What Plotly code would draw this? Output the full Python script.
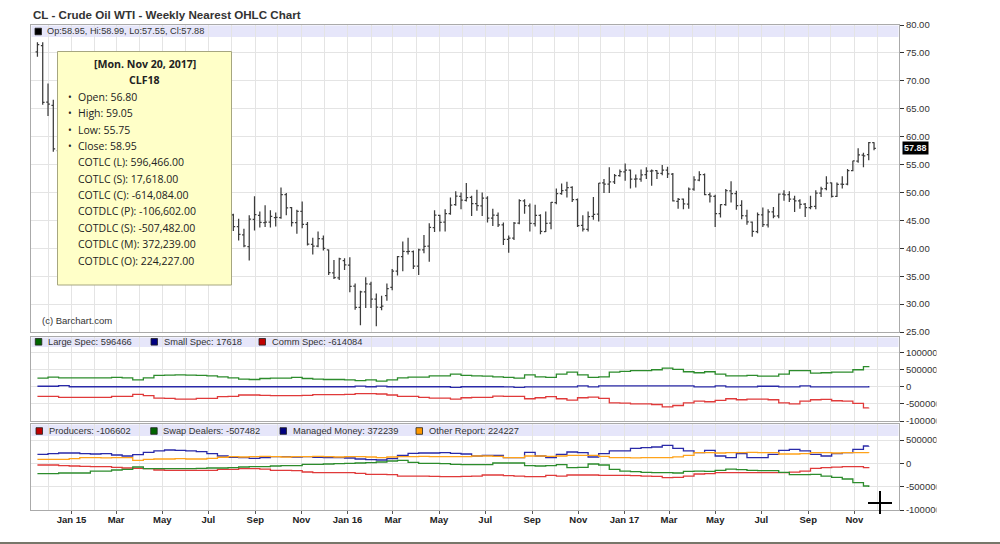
import plotly.graph_objects as go
import pandas as pd

# ---------------- price data (weekly OHLC, CL nearest) ----------------
week_start = "2014-11-17"
open_ = [
    75.2, 76.3, 66.2, 65.6, 57.5, 56.3, 54.6,
    52.7, 48.1, 48.7, 45.6, 48.0, 51.6, 52.8, 50.5, 49.6, 49.6, 44.8, 45.7, 48.9,
    49.1, 51.6, 55.7, 57.1, 59.2, 59.4, 59.7, 59.7, 60.3, 59.1, 60.0, 59.6, 58.5,
    56.0, 52.7, 50.9, 48.1, 46.0, 43.9, 42.4, 40.3, 45.2, 45.9, 44.6, 44.7, 45.5,
    45.5, 49.6, 47.3, 44.6, 46.6, 44.3, 40.7, 40.4, 41.7, 39.7, 35.6, 34.7, 37.8,
    37.0, 33.2, 29.4, 32.2, 33.6, 30.9, 29.4, 31.5, 33.0, 35.9, 38.5, 39.4, 39.4,
    36.8, 39.7, 40.4, 43.7, 45.9, 44.7, 46.2, 47.8, 49.3, 48.6, 49.1, 48.0, 47.6,
    49.0, 45.4, 45.9, 44.2, 41.6, 41.8, 44.5, 48.5, 47.6, 44.4, 45.9, 43.0, 44.5,
    48.2, 49.8, 50.4, 50.9, 48.7, 44.1, 43.4, 45.7, 46.1, 51.7, 51.5, 51.9, 53.0,
    53.7, 54.0, 52.4, 52.4, 53.2, 53.8, 53.9, 53.4, 54.0, 53.3, 48.4, 48.8, 47.9,
    50.6, 52.2, 53.2, 49.6, 49.3, 46.2, 47.8, 50.3, 49.8, 47.7, 45.8, 44.7, 43.0,
    46.0, 44.2, 46.5, 45.8, 49.7, 49.6, 48.8, 48.5, 47.9, 47.3, 47.5, 49.9, 50.7,
    51.7, 49.3, 51.5, 51.5, 53.9, 55.6, 56.7, 56.80, 58.95,
]
high = [
    76.9, 76.9, 69.5, 66.6, 58.0, 57.8, 55.1,
    52.7, 49.9, 48.9, 48.3, 54.2, 53.0, 53.6, 51.3, 51.3, 50.4, 47.3, 52.5, 51.2,
    54.2, 57.4, 58.0, 59.9, 62.6, 61.1, 61.0, 60.7, 61.6, 61.4, 61.2, 61.5, 59.7,
    56.1, 53.7, 51.1, 49.0, 46.2, 45.3, 43.5, 45.9, 49.3, 46.6, 47.7, 46.8, 46.4,
    50.9, 49.9, 47.4, 46.9, 48.4, 44.7, 41.9, 43.0, 42.3, 39.8, 37.9, 38.3, 38.2,
    38.4, 33.7, 32.4, 34.8, 34.0, 31.9, 31.5, 33.7, 36.3, 38.6, 41.2, 41.9, 39.6,
    39.9, 42.4, 44.5, 46.8, 46.0, 47.0, 49.1, 50.2, 50.0, 51.7, 49.4, 50.5, 50.0,
    49.3, 47.1, 46.4, 44.6, 42.3, 44.7, 48.8, 48.8, 48.0, 47.8, 46.1, 46.6, 48.3,
    50.7, 51.6, 51.9, 51.1, 48.9, 45.9, 46.6, 49.2, 51.7, 52.4, 54.5, 53.3, 54.1,
    55.2, 54.1, 53.2, 54.1, 54.5, 54.1, 54.0, 54.9, 54.6, 53.5, 49.0, 48.9, 50.9,
    52.9, 53.8, 53.4, 50.0, 49.6, 47.9, 50.6, 52.0, 50.3, 48.6, 46.9, 44.8, 46.4,
    47.3, 47.0, 47.4, 49.8, 50.4, 50.2, 49.4, 48.8, 48.1, 49.4, 50.4, 51.0, 52.9,
    51.8, 51.8, 52.9, 54.2, 55.7, 57.9, 57.1, 59.05, 58.99,
]
low = [
    74.3, 65.7, 63.7, 57.3, 53.6, 54.5, 52.0,
    47.5, 44.2, 45.2, 43.6, 47.4, 48.3, 48.6, 47.3, 48.6, 44.4, 42.0, 45.3, 46.7,
    48.9, 51.3, 54.4, 55.7, 58.2, 58.1, 57.0, 56.5, 57.4, 57.8, 58.6, 58.8, 56.2,
    51.3, 50.5, 47.7, 46.7, 43.1, 41.4, 40.2, 37.8, 43.2, 43.7, 43.8, 43.7, 43.9,
    45.3, 45.9, 43.9, 42.6, 43.6, 40.5, 38.9, 40.2, 39.6, 35.2, 34.5, 34.3, 36.1,
    32.1, 29.0, 26.2, 29.3, 29.3, 26.05, 28.9, 30.6, 32.5, 35.1, 35.9, 38.9, 36.3,
    35.2, 39.1, 37.6, 42.9, 43.0, 43.0, 46.0, 47.6, 47.0, 48.4, 45.8, 46.7, 45.8,
    44.6, 44.0, 43.8, 40.6, 39.2, 41.5, 44.3, 46.2, 43.0, 43.9, 42.5, 42.9, 43.4,
    47.9, 49.6, 49.1, 48.3, 43.8, 43.0, 43.0, 45.1, 44.8, 49.9, 49.9, 51.5, 52.8,
    52.1, 50.7, 50.9, 51.9, 52.4, 51.2, 52.4, 53.1, 52.6, 48.4, 47.1, 47.0, 47.1,
    50.3, 52.0, 49.5, 48.2, 43.8, 45.5, 47.6, 48.2, 46.9, 45.2, 44.2, 42.05, 42.7,
    43.8, 43.7, 45.4, 45.4, 48.5, 48.3, 46.5, 47.1, 45.6, 47.0, 47.0, 49.2, 50.4,
    49.1, 49.2, 50.7, 51.3, 53.8, 55.3, 54.5, 55.75, 57.55,
]
close = [
    76.5, 66.15, 65.84, 57.81, 56.52, 54.73, 52.69,
    48.36, 48.69, 45.59, 48.24, 51.69, 52.78, 50.81, 49.76, 49.61, 44.84, 45.72, 48.87, 49.14,
    51.64, 55.74, 57.15, 59.15, 59.39, 59.69, 59.72, 60.30, 59.13, 59.96, 59.61, 59.63, 56.93,
    52.74, 50.89, 48.14, 47.12, 43.87, 42.50, 40.45, 45.22, 46.05, 44.63, 44.68, 45.70, 45.54,
    49.63, 47.26, 44.60, 46.59, 44.29, 40.74, 40.39, 41.71, 39.97, 35.62, 34.73, 38.10, 37.04,
    33.16, 29.42, 32.19, 33.62, 30.89, 29.44, 29.64, 32.78, 35.92, 38.50, 39.44, 39.46, 36.79,
    39.72, 40.36, 43.73, 45.92, 44.66, 46.21, 47.75, 49.33, 48.62, 49.07, 47.98, 47.64, 48.99,
    45.41, 45.95, 44.19, 41.60, 41.80, 44.49, 48.52, 47.64, 44.44, 45.88, 43.03, 44.48, 48.24,
    49.81, 50.35, 50.85, 48.70, 44.07, 43.41, 45.69, 46.06, 51.68, 51.50, 51.90, 53.02, 53.72,
    53.99, 52.37, 52.42, 53.17, 53.83, 53.86, 53.40, 53.99, 53.33, 48.49, 48.78, 47.97, 50.60,
    52.24, 53.18, 49.62, 49.33, 46.22, 47.84, 50.33, 49.80, 47.66, 45.83, 44.74, 43.01, 46.04,
    44.23, 46.54, 45.77, 49.71, 49.58, 48.82, 48.51, 47.87, 47.29, 47.48, 49.89, 50.66, 51.67,
    49.29, 51.45, 51.47, 53.90, 55.64, 56.74, 56.55, 58.95, 57.88,
]

# ---------------- COT data (read every 2 weeks, last = latest report) ----------------
cot_start = "2014-11-17"
cot_last = "2017-11-20"
large_spec = [
    245000, 275000, 255000, 255000, 255000, 255000, 255000, 270000, 255000, 196000,
    255000, 323000, 333000, 343000, 333000, 323000, 314000, 284000, 255000, 216000,
    206000, 235000, 245000, 245000, 265000, 235000, 216000, 206000, 206000, 196000,
    176000, 196000, 157000, 196000, 255000, 275000, 275000, 314000, 314000, 363000,
    323000, 314000, 304000, 284000, 265000, 245000, 343000, 284000, 265000, 363000,
    422000, 343000, 265000, 284000, 422000, 441000, 461000, 461000, 490000, 539000,
    500000, 431000, 402000, 431000, 363000, 314000, 314000, 324000, 304000, 304000,
    363000, 461000, 461000, 392000, 402000, 422000, 422000, 490000, 578000, 596466,
]
small_spec = [
    10000, 10000, 29000, -5000, -5000, -5000, -5000, -5000, -5000, -5000,
    -5000, -5000, -5000, -5000, -5000, -5000, -5000, -5000, -5000, -5000,
    -5000, -5000, -5000, -5000, -5000, -5000, -5000, -5000, -5000, -5000,
    15000, -5000, 15000, -5000, -5000, -5000, -5000, -5000, -5000, -25000,
    -5000, -5000, -5000, -5000, -10000, -25000, -10000, -10000, -10000, -10000,
    -10000, 20000, -10000, 20000, 20000, 20000, 20000, 20000, 20000, 20000,
    20000, 20000, -10000, -10000, 20000, -10000, -10000, -10000, 10000, 10000,
    -10000, -10000, 20000, -10000, -10000, -10000, -10000, -10000, -10000, 17618,
]
comm_spec = [
    -284000, -284000, -314000, -314000, -314000, -314000, -314000, -284000, -284000, -225000,
    -265000, -333000, -343000, -363000, -363000, -343000, -343000, -294000, -284000, -245000,
    -245000, -255000, -265000, -265000, -265000, -255000, -235000, -235000, -235000, -225000,
    -206000, -206000, -216000, -245000, -284000, -284000, -314000, -333000, -333000, -363000,
    -324000, -314000, -314000, -275000, -284000, -284000, -353000, -324000, -294000, -353000,
    -392000, -324000, -304000, -343000, -471000, -480000, -500000, -500000, -520000, -588000,
    -549000, -471000, -422000, -441000, -402000, -353000, -382000, -363000, -363000, -382000,
    -471000, -500000, -422000, -382000, -373000, -412000, -422000, -490000, -618000, -614084,
]
producers = [
    -36000, -36000, -50000, -57000, -65000, -72000, -72000, -86000, -100000, -107000,
    -114000, -143000, -150000, -150000, -150000, -150000, -150000, -129000, -129000, -114000,
    -114000, -122000, -150000, -150000, -157000, -186000, -200000, -200000, -200000, -200000,
    -215000, -236000, -236000, -243000, -272000, -272000, -272000, -279000, -286000, -286000,
    -279000, -272000, -250000, -250000, -265000, -272000, -286000, -286000, -257000, -272000,
    -250000, -250000, -250000, -257000, -257000, -257000, -265000, -272000, -279000, -307000,
    -300000, -272000, -229000, -222000, -200000, -200000, -200000, -200000, -200000, -200000,
    -200000, -190000, -165000, -110000, -93000, -80000, -72000, -72000, -93000, -106602,
]
swap_dealers = [
    -222000, -222000, -207000, -207000, -207000, -165000, -165000, -143000, -129000, -79000,
    -114000, -114000, -114000, -114000, -114000, -107000, -100000, -100000, -93000, -79000,
    -72000, -72000, -57000, -50000, -50000, -21000, -21000, -14000, -7000, 0,
    7000, 14000, 29000, 50000, 64000, 21000, 0, 0, -7000, -21000,
    -29000, -29000, -29000, 7000, 7000, 7000, -50000, -57000, -50000, -29000,
    -93000, -86000, -14000, -36000, -129000, -165000, -179000, -193000, -200000, -200000,
    -207000, -172000, -165000, -172000, -150000, -122000, -136000, -150000, -157000, -157000,
    -193000, -243000, -243000, -236000, -272000, -300000, -336000, -415000, -486000, -507482,
]
managed_money = [
    193000, 207000, 221000, 221000, 207000, 200000, 207000, 179000, 157000, 186000,
    236000, 265000, 286000, 279000, 265000, 250000, 207000, 157000, 129000, 122000,
    107000, 122000, 143000, 143000, 136000, 143000, 129000, 122000, 122000, 114000,
    93000, 79000, 72000, 100000, 172000, 215000, 221000, 221000, 229000, 215000,
    200000, 157000, 172000, 172000, 122000, 122000, 236000, 157000, 122000, 193000,
    243000, 229000, 136000, 207000, 265000, 265000, 322000, 336000, 350000, 386000,
    322000, 265000, 229000, 279000, 157000, 122000, 207000, 122000, 122000, 193000,
    279000, 300000, 265000, 193000, 157000, 207000, 229000, 300000, 372000, 372239,
]
other_report = [
    86000, 86000, 86000, 100000, 122000, 122000, 115000, 122000, 122000, 64000,
    86000, 93000, 93000, 100000, 93000, 93000, 107000, 130000, 143000, 136000,
    143000, 150000, 143000, 136000, 143000, 143000, 150000, 143000, 136000, 143000,
    143000, 136000, 122000, 136000, 143000, 143000, 150000, 143000, 143000, 143000,
    143000, 157000, 157000, 150000, 122000, 122000, 157000, 157000, 150000, 157000,
    172000, 172000, 172000, 150000, 122000, 122000, 115000, 122000, 122000, 122000,
    140000, 172000, 229000, 229000, 222000, 229000, 229000, 236000, 229000, 229000,
    200000, 200000, 207000, 229000, 229000, 222000, 229000, 229000, 229000, 224227,
]

# ---------------- axis ticks / labels ----------------
tick_dates = ["2015-01-01", "2015-03-01", "2015-05-01", "2015-07-01", "2015-09-01", "2015-11-01",
              "2016-01-01", "2016-03-01", "2016-05-01", "2016-07-01", "2016-09-01", "2016-11-01",
              "2017-01-01", "2017-03-01", "2017-05-01", "2017-07-01", "2017-09-01", "2017-11-01"]
tick_text = ["Jan 15", "Mar", "May", "Jul", "Sep", "Nov",
             "Jan 16", "Mar", "May", "Jul", "Sep", "Nov",
             "Jan 17", "Mar", "May", "Jul", "Sep", "Nov"]
price_ticks = [25, 30, 35, 40, 45, 50, 55, 60, 65, 70, 75, 80]
price_tick_text = ["25.00", "30.00", "35.00", "40.00", "45.00", "50.00",
                   "55.00", "60.00", "65.00", "70.00", "75.00", "80.00"]
cot_ticks = [-1000000, -500000, 0, 500000, 1000000]
cot_tick_text = ["-1000000", "-500000", "0", "500000", "1000000"]

header_text = "Op:58.95, Hi:58.99, Lo:57.55, Cl:57.88"
last_price = 57.88
legend2 = [("Large Spec: 596466", "#006400"), ("Small Spec: 17618", "#000080"),
           ("Comm Spec: -614084", "#c00000")]
legend3 = [("Producers: -106602", "#c00000"), ("Swap Dealers: -507482", "#006400"),
           ("Managed Money: 372239", "#000080"), ("Other Report: 224227", "#ff9900")]
tooltip_title = "[Mon. Nov 20, 2017]"
tooltip_symbol = "CLF18"
tooltip_bullets = ["Open: 56.80", "High: 59.05", "Low: 55.75", "Close: 58.95"]
tooltip_cot = ["COTLC (L): 596,466.00", "COTLC (S): 17,618.00", "COTLC (C): -614,084.00",
               "COTDLC (P): -106,602.00", "COTDLC (S): -507,482.00",
               "COTDLC (M): 372,239.00", "COTDLC (O): 224,227.00"]

weeks = pd.date_range(week_start, periods=len(close), freq="7D")
cot_dates = list(pd.date_range(cot_start, periods=len(large_spec) - 1, freq="14D")) + [pd.Timestamp(cot_last)]

# ---------------- layout geometry (pixels) ----------------
W, H = 1000, 544
PL, PR, PT, PB = 31, 899, 25, 510


def fx(px):
    return (px - PL) / (PR - PL)


def fy(py):
    return (PB - py) / (PB - PT)


SANS = "Liberation Sans, Arial, sans-serif"
TIP = "Open Sans, Noto Sans, sans-serif"
GRID = "#e4e4e4"

fig = go.Figure()
fig.add_trace(go.Ohlc(
    x=weeks, open=open_, high=high, low=low, close=close,
    xaxis="x", yaxis="y", tickwidth=0.35,
    increasing=dict(line=dict(color="#3c3c3c", width=1.25)),
    decreasing=dict(line=dict(color="#3c3c3c", width=1.25)),
    hoverinfo="skip", showlegend=False))

for vals, col in [(large_spec, "#2c8c2c"), (small_spec, "#2a2aa8"), (comm_spec, "#e03a3a")]:
    fig.add_trace(go.Scatter(x=cot_dates, y=vals, mode="lines", line=dict(color=col, width=1.3, shape="hv"),
                             xaxis="x2", yaxis="y2", hoverinfo="skip", showlegend=False))
for vals, col in [(producers, "#e03a3a"), (swap_dealers, "#2c8c2c"),
                  (managed_money, "#2a2aa8"), (other_report, "#ffa31a")]:
    fig.add_trace(go.Scatter(x=cot_dates, y=vals, mode="lines", line=dict(color=col, width=1.3, shape="hv"),
                             xaxis="x3", yaxis="y3", hoverinfo="skip", showlegend=False))

xr = ["2014-11-08 12:00", "2017-12-30"]


def xax(anchor, labels):
    d = dict(type="date", range=xr, anchor=anchor, domain=[0, 1],
             tickmode="array", tickvals=tick_dates, ticktext=tick_text,
             showgrid=True, gridcolor=GRID, gridwidth=1,
             minor=dict(tick0="2014-12-01", dtick="M1", showgrid=True, gridcolor=GRID, gridwidth=1),
             showline=True, linecolor="#aaaaaa", linewidth=1, mirror=True, zeroline=False,
             fixedrange=True, rangeslider=dict(visible=False))
    if labels:
        d.update(showticklabels=True, ticks="outside", ticklen=3, tickcolor="#555555",
                 ticklabelstandoff=-2,
                 tickfont=dict(family=SANS, size=9.5, color="#222222", weight="bold"))
    else:
        d.update(showticklabels=False, ticks="")
    return d


def yax(anchor, dom, rng, tv, tt):
    return dict(anchor=anchor, domain=dom, range=rng, side="right",
                tickmode="array", tickvals=tv, ticktext=tt,
                ticks="outside", ticklen=4, tickcolor="#333333",
                tickfont=dict(family=SANS, size=9.5, color="#333333"),
                showgrid=True, gridcolor=GRID, gridwidth=1, zeroline=False,
                showline=True, linecolor="#aaaaaa", linewidth=1, mirror=True, fixedrange=True)


fig.update_layout(
    width=W, height=H, margin=dict(l=PL, r=W - PR, t=PT, b=H - PB),
    paper_bgcolor="white", plot_bgcolor="white", showlegend=False,
    font=dict(family=SANS, color="#333333"),
    xaxis=xax("y", False), xaxis2=xax("y2", False), xaxis3=xax("y3", True),
    yaxis=yax("x", [fy(332), 1], [25, 80], price_ticks, price_tick_text),
    yaxis2=yax("x2", [fy(421), fy(337)], [-1000000, 1441000], cot_ticks, cot_tick_text),
    yaxis3=yax("x3", [0, fy(424)], [-1000000, 843000], cot_ticks[:4], cot_tick_text[:4]),
)

shapes = []
# header bands
for y0, y1 in [(37, 25.5), (347, 337.5), (436, 424.5)]:
    shapes.append(dict(type="rect", xref="paper", yref="paper", x0=fx(PL + 0.5), x1=fx(PR - 0.5),
                       y0=fy(y0), y1=fy(y1), fillcolor="#e6e6fa", line=dict(width=0), layer="below"))
# the page is cut off at the right, clipping the long COT tick labels
shapes.append(dict(type="rect", xref="paper", yref="paper", x0=fx(936.5), x1=fx(1001),
                   y0=fy(528), y1=fy(334), fillcolor="white", line=dict(width=0), layer="above"))
annotations = []


def square(xl, yc, col):
    shapes.append(dict(type="rect", xref="paper", yref="paper", x0=fx(xl), x1=fx(xl + 6.5),
                       y0=fy(yc + 3.3), y1=fy(yc - 3.3), fillcolor=col,
                       line=dict(color="#222222", width=0.8), layer="above"))


def label(x, y, txt, size=9.3, color="#333333", anchor="left", family=SANS):
    annotations.append(dict(xref="paper", yref="paper", x=fx(x), y=fy(y), text=txt, showarrow=False,
                            xanchor=anchor, yanchor="middle", font=dict(family=family, size=size, color=color)))


# price header
square(35, 31.5, "#000000")
label(44.5, 31.5, header_text, size=9.2)
# panel 2 legend
for (txt, col), sx in zip(legend2, [35.3, 151, 259]):
    square(sx, 341.8, col)
    label(sx + 10.5, 341.8, txt)
# panel 3 legend
for (txt, col), sx in zip(legend3, [36, 150.7, 280, 416]):
    square(sx, 431, col)
    label(sx + 10.5, 431, txt)

# title and copyright
label(31, 14, "<b>CL - Crude Oil WTI - Weekly Nearest OHLC Chart</b>", size=11.6, color="#333333")
label(40, 320, "(c) Barchart.com", size=9.5, color="#333333")

# last price box
annotations.append(dict(xref="paper", yref="y", x=fx(902), y=last_price, text="<b>%.2f</b>" % last_price,
                        showarrow=False, xanchor="left", yanchor="middle", bgcolor="#000000",
                        borderpad=1, font=dict(family=SANS, size=9, color="#f0f0f0")))

# tooltip box
shapes.append(dict(type="rect", xref="paper", yref="paper", x0=fx(57.5), x1=fx(231.5),
                   y0=fy(285), y1=fy(51.5), fillcolor="#ffffc8",
                   line=dict(color="#a6a680", width=1), layer="above"))
line_y = [64 + 16.38 * i for i in range(13)]
label(144.5, line_y[0], "<b>%s</b>" % tooltip_title, size=10.6, color="#222222", anchor="center", family=TIP)
label(144.5, line_y[1], "<b>%s</b>" % tooltip_symbol, size=10.6, color="#222222", anchor="center", family=TIP)
for i, t in enumerate(tooltip_bullets):
    label(65.5, line_y[2 + i], "•", size=10, color="#222222", family=TIP)
    label(75.5, line_y[2 + i], t, size=10.5, color="#222222", family=TIP)
for i, t in enumerate(tooltip_cot):
    label(75.5, line_y[6 + i], t, size=10.5, color="#222222", family=TIP)

# mouse cursor and bottom frame line of the screenshot
shapes.append(dict(type="line", xref="paper", yref="paper", x0=fx(868), x1=fx(892), y0=fy(503), y1=fy(503),
                   line=dict(color="#000000", width=2), layer="above"))
shapes.append(dict(type="line", xref="paper", yref="paper", x0=fx(880), x1=fx(880), y0=fy(491), y1=fy(514),
                   line=dict(color="#000000", width=2), layer="above"))
shapes.append(dict(type="line", xref="paper", yref="paper", x0=fx(0), x1=fx(1000), y0=fy(543), y1=fy(543),
                   line=dict(color="#77776a", width=2), layer="above"))

fig.update_layout(shapes=shapes, annotations=annotations)

fig.write_html("out.html", config={"displayModeBar": False, "staticPlot": True},
               post_script="document.body.style.margin='0px';document.body.style.overflow='hidden';")
